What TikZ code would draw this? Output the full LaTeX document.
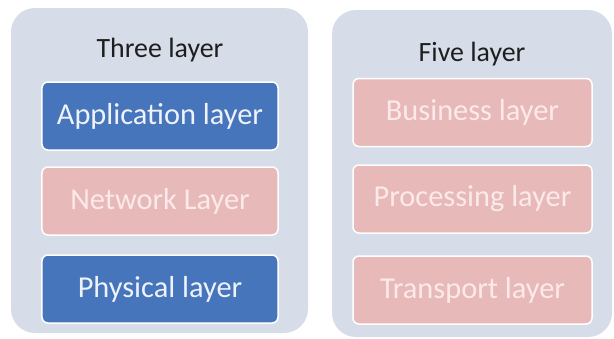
\documentclass[tikz,border=0pt]{standalone}
\usepackage{fontspec}
\setmainfont{Carlito}
\definecolor{panelbg}{RGB}{214,221,232}
\definecolor{bluebox}{RGB}{70,117,188}
\definecolor{pinkbox}{RGB}{232,185,185}
\definecolor{pinktext}{RGB}{252,233,233}
\definecolor{bluetext}{RGB}{238,242,250}
\definecolor{titletext}{RGB}{30,30,30}
\begin{document}
\begin{tikzpicture}[x=1bp,y=-1bp,
  panel/.style={fill=panelbg,draw=none,rounded corners=24bp},
  layerbox/.style={draw=white,line width=1.5bp,rounded corners=6bp,minimum width=#1,minimum height=68bp,inner sep=0pt,font=\fontsize{30.5}{36}\selectfont},
  bluelayer/.style={layerbox=236bp,fill=bluebox,text=bluetext},
  pinkleft/.style={layerbox=236bp,fill=pinkbox,text=pinktext},
  pinkright/.style={layerbox=239bp,fill=pinkbox,text=pinktext},
  paneltitle/.style={font=\fontsize{28}{33}\selectfont,text=titletext,inner sep=0pt}
]
\useasboundingbox (0,0) rectangle (614,338);
\fill[white] (0,0) rectangle (614,338);
\path[panel] (11,8) rectangle (308,333);
\path[panel] (332,10) rectangle (612,337);
\node[paneltitle] (t3) at (160,50) {Three layer};
\node[bluelayer] (app) at (160,116) {Application layer};
\node[pinkleft] (net) at (160,201) {Network Layer};
\node[bluelayer] (phy) at (160,289) {Physical layer};
\node[paneltitle] (t5) at (472,54) {Five layer};
\node[pinkright] (bus) at (472.5,112.5) {Business layer};
\node[pinkright] (proc) at (472.5,199) {Processing layer};
\node[pinkright] (tra) at (472.5,290) {Transport layer};
\end{tikzpicture}
\end{document}
